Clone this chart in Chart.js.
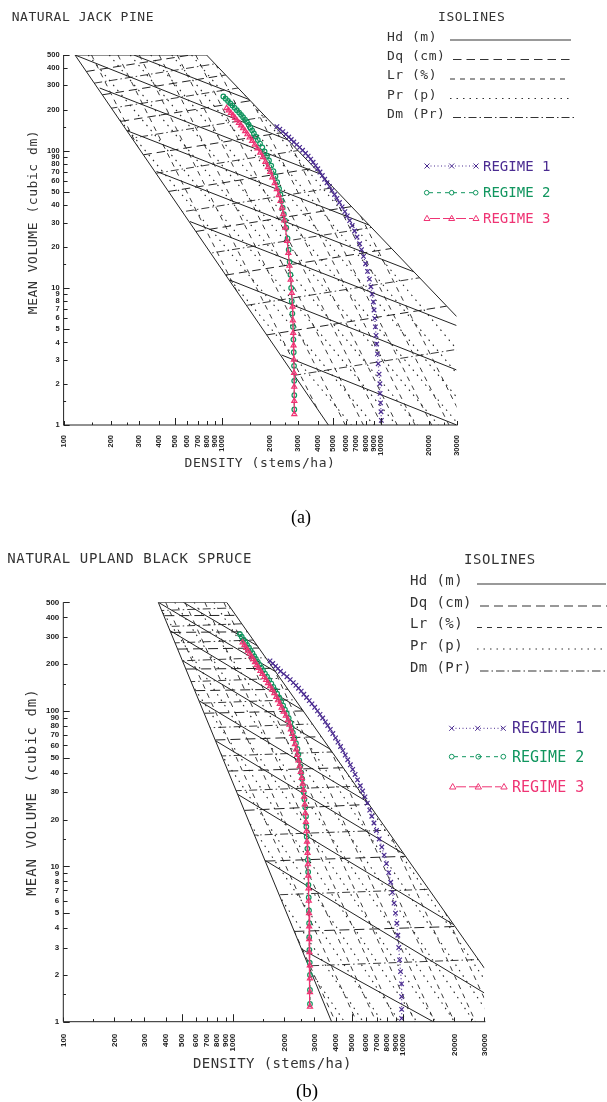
<!DOCTYPE html>
<html>
<head>
<meta charset="utf-8">
<script src="https://cdn.jsdelivr.net/npm/chart.js@4.4.1/dist/chart.umd.min.js"></script>
<style>
  html, body { margin: 0; padding: 0; background: #fff; }
  body { width: 607px; height: 1102px; position: relative; overflow: hidden; }
  canvas { position: absolute; left: 0; }
  #jackPine { top: 0; }
  #blackSpruce { top: 540px; }
  #labels { position: absolute; left: 0; top: 0; }
  #labels text { font-family: "DejaVu Sans Mono", monospace; fill: #333; }
</style>
</head>
<body>
<canvas id="jackPine" width="607" height="480"></canvas>
<canvas id="blackSpruce" width="607" height="520"></canvas>

<svg id="labels" width="607" height="1102">
  <!-- (a) natural jack pine -->
  <text x="11.7" y="20.7" font-size="13" style="letter-spacing:0.55px">NATURAL JACK PINE</text>
  <text x="438" y="21" font-size="13" style="letter-spacing:0.6px">ISOLINES</text>
  <text x="387" y="40.5" font-size="13" style="letter-spacing:0.5px">Hd (m)</text>
  <text x="387" y="59.5" font-size="13" style="letter-spacing:0.5px">Dq (cm)</text>
  <text x="387" y="79.3" font-size="13" style="letter-spacing:0.5px">Lr (%)</text>
  <text x="387" y="99" font-size="13" style="letter-spacing:0.5px">Pr (p)</text>
  <text x="387" y="118" font-size="13" style="letter-spacing:0.5px">Dm (Pr)</text>
  <g fill="none" stroke="#333" stroke-width="1.1">
    <line x1="450" y1="40" x2="571" y2="40" stroke="#777" stroke-width="1.6"/>
    <line x1="453" y1="59.5" x2="572" y2="59.5" stroke-dasharray="8.5 5"/>
    <line x1="450" y1="79" x2="569" y2="79" stroke-dasharray="5 5"/>
    <line x1="450" y1="98.5" x2="569" y2="98.5" stroke-dasharray="1.5 5"/>
    <line x1="453" y1="117.5" x2="575" y2="117.5" stroke-dasharray="8 3 1.5 3"/>
  </g>
  <g fill="none" stroke="#4b2c91" stroke-width="1">
    <line x1="427" y1="166" x2="476" y2="166" stroke-dasharray="1 2.5"/>
    <path d="M424.5 163.5L429.5 168.5M424.5 168.5L429.5 163.5M449.2 163.5L454.2 168.5M449.2 168.5L454.2 163.5M473.5 163.5L478.5 168.5M473.5 168.5L478.5 163.5"/>
  </g>
  <g fill="none" stroke="#11965f" stroke-width="1">
    <line x1="429" y1="192.7" x2="474" y2="192.7" stroke-dasharray="4 4"/>
    <circle cx="426.7" cy="192.7" r="2.3"/><circle cx="451.7" cy="192.7" r="2.3"/><circle cx="475.7" cy="192.7" r="2.3"/>
  </g>
  <g fill="none" stroke="#ef3474" stroke-width="1">
    <line x1="430" y1="218.5" x2="473" y2="218.5" stroke-dasharray="10 3"/>
    <path d="M427 215.3L430 220.5L424 220.5Z M451.7 215.3L454.7 220.5L448.7 220.5Z M476 215.3L479 220.5L473 220.5Z"/>
  </g>
  <text x="483" y="171" font-size="14" style="fill:#4b2c91">REGIME 1</text>
  <text x="483" y="196.7" font-size="14" style="fill:#11965f">REGIME 2</text>
  <text x="483" y="222.7" font-size="14" style="fill:#ef3474">REGIME 3</text>
  <text transform="translate(36.5,222) rotate(-90)" text-anchor="middle" font-size="13" style="letter-spacing:0.55px">MEAN VOLUME (cubic dm)</text>
  <text x="260" y="467" text-anchor="middle" font-size="13" style="letter-spacing:0.55px">DENSITY (stems/ha)</text>
  <text x="301" y="523" text-anchor="middle" font-size="18" style="font-family:'Liberation Serif',serif;fill:#000">(a)</text>

  <!-- (b) natural upland black spruce -->
  <text x="7.3" y="563" font-size="14" style="letter-spacing:0.64px">NATURAL UPLAND BLACK SPRUCE</text>
  <text x="464" y="564" font-size="14" style="letter-spacing:0.55px">ISOLINES</text>
  <text x="410" y="585" font-size="14" style="letter-spacing:0.4px">Hd (m)</text>
  <text x="410" y="606.5" font-size="14" style="letter-spacing:0.4px">Dq (cm)</text>
  <text x="410" y="628" font-size="14" style="letter-spacing:0.4px">Lr (%)</text>
  <text x="410" y="649.5" font-size="14" style="letter-spacing:0.4px">Pr (p)</text>
  <text x="410" y="672" font-size="14" style="letter-spacing:0.4px">Dm (Pr)</text>
  <g fill="none" stroke="#333" stroke-width="1.1">
    <line x1="477" y1="584" x2="606" y2="584" stroke="#777" stroke-width="1.6"/>
    <line x1="480" y1="606" x2="607" y2="606" stroke-dasharray="9 5"/>
    <line x1="477" y1="627.5" x2="607" y2="627.5" stroke-dasharray="5 5"/>
    <line x1="477" y1="649" x2="607" y2="649" stroke-dasharray="1.5 5"/>
    <line x1="480" y1="671" x2="607" y2="671" stroke-dasharray="8.5 3 1.5 3"/>
  </g>
  <g fill="none" stroke="#4b2c91" stroke-width="1">
    <line x1="452" y1="728.3" x2="503" y2="728.3" stroke-dasharray="1 2.5"/>
    <path d="M449.2 725.8L454.2 730.8M449.2 730.8L454.2 725.8M475.2 725.8L480.2 730.8M475.2 730.8L480.2 725.8M500.8 725.8L505.8 730.8M500.8 730.8L505.8 725.8"/>
  </g>
  <g fill="none" stroke="#11965f" stroke-width="1">
    <line x1="454" y1="756.7" x2="501" y2="756.7" stroke-dasharray="4 4"/>
    <circle cx="451.7" cy="756.7" r="2.4"/><circle cx="478.3" cy="756.7" r="2.4"/><circle cx="503.3" cy="756.7" r="2.4"/>
  </g>
  <g fill="none" stroke="#ef3474" stroke-width="1">
    <line x1="456" y1="786.8" x2="501" y2="786.8" stroke-dasharray="10 3"/>
    <path d="M452.7 783.5L455.9 789L449.5 789Z M478.3 783.5L481.5 789L475.1 789Z M504 783.5L507.2 789L500.8 789Z"/>
  </g>
  <text x="512" y="733" font-size="15" style="fill:#4b2c91">REGIME 1</text>
  <text x="512" y="762" font-size="15" style="fill:#11965f">REGIME 2</text>
  <text x="512" y="792" font-size="15" style="fill:#ef3474">REGIME 3</text>
  <text transform="translate(36.3,792) rotate(-90)" text-anchor="middle" font-size="14" style="letter-spacing:1px">MEAN VOLUME (cubic dm)</text>
  <text x="272.5" y="1068" text-anchor="middle" font-size="14" style="letter-spacing:0.4px">DENSITY (stems/ha)</text>
  <text x="307" y="1097" text-anchor="middle" font-size="19" style="font-family:'Liberation Serif',serif;fill:#000">(b)</text>
</svg>

<script>
// axis ticks (stems/ha and cubic dm)
const densityTicks = [100, 150, 200, 250, 300, 400, 500, 600, 700, 800, 900, 1000, 1500, 2000, 2500, 3000, 4000, 5000, 6000, 7000, 8000, 9000, 10000, 15000, 20000, 25000, 30000];
const densityLabels = [100, 200, 300, 400, 500, 600, 700, 800, 900, 1000, 2000, 3000, 4000, 5000, 6000, 7000, 8000, 9000, 10000, 20000, 30000];
const densityMajor = [500, 1000, 5000, 10000];
const volumeTicks = [1, 1.5, 2, 3, 4, 5, 6, 7, 8, 9, 10, 15, 20, 30, 40, 50, 60, 70, 80, 90, 100, 150, 200, 300, 400, 500];
const volumeLabels = [1, 2, 3, 4, 5, 6, 7, 8, 9, 10, 20, 30, 40, 50, 60, 70, 80, 90, 100, 200, 300, 400, 500];
const volumeMajor = [1, 5, 10, 50, 100, 500];

// ---- (a) natural jack pine ----
// outline and stand area as [density, volume]
const jpOutline = [[4660, 1], [118, 500], [796, 500], [30000, 6.18]];
const jpStand = [[118, 500], [796, 500], [30000, 6.18], [30000, 1], [4660, 1]];
// isolines as [N1, V1, N2, V2]
const jpHd = [[277, 500, 1486, 236], [118, 500, 2594, 120], [169, 287, 4170, 67.6], [244, 142, 8440, 28.7],
  [385, 70.7, 16140, 13.1], [625, 30.5, 30000, 5.31], [1117, 11.4, 30000, 2.52], [2366, 3.24, 30000, 1]];
const jpDq = [[1905, 4.54, 25900, 7.36], [1049, 12.4, 11640, 19.4], [682, 25.8, 6530, 39.2], [458, 50.5, 3828, 74.8],
  [318, 93.5, 2350, 135.5], [229, 164, 1506, 232], [175, 256, 1055, 358], [139, 379, 631, 500]];
const jpDm = [[100, 1.24, 30000, 3.56], [100, 4.57, 30000, 13.1], [100, 12.1, 30000, 34.7], [100, 26.1, 30000, 75],
  [100, 53.5, 30000, 154], [100, 103, 30000, 296], [100, 180, 30000, 516], [100, 287, 30000, 825]];
const jpPr = [[74, 500, 6500, 1], [103, 500, 9000, 1], [143, 500, 12500, 1], [194, 500, 17000, 1], [263, 500, 23000, 1],
  [354, 500, 31000, 1], [480, 500, 42000, 1], [640, 500, 56000, 1], [857, 500, 75000, 1]];
const jpLr = [[150, 500, 2235, 1], [220, 500, 3278, 1], [300, 500, 4470, 1], [400, 500, 5960, 1], [520, 500, 7750, 1],
  [680, 500, 10130, 1], [850, 500, 12660, 1], [1100, 500, 16390, 1], [1400, 500, 20860, 1], [1800, 500, 26820, 1], [2300, 500, 34270, 1]];
// regimes as [density, volume]
const jpRegime1 = [[2208, 150], [2305, 144], [2407, 138], [2512, 132], [2623, 126], [2720, 121], [2822, 116], [2944, 111],
  [3070, 106], [3204, 101], [3345, 96], [3476, 91.5], [3608, 87], [3735, 82.5], [3869, 78], [3996, 74], [4126, 70],
  [4268, 66], [4417, 62], [4569, 58.5], [4734, 55], [4910, 51.5], [5098, 48], [5273, 45], [5473, 42], [5690, 39],
  [5922, 36], [6130, 33.5], [6347, 31], [6585, 28.5], [6818, 26], [7060, 23.5], [7335, 21], [7540, 19], [7760, 17],
  [7999, 15], [8225, 13.2], [8452, 11.6], [8635, 10.2], [8793, 9], [8953, 7.9], [9042, 6.9], [9135, 6], [9222, 5.2],
  [9308, 4.5], [9391, 3.9], [9499, 3.3], [9607, 2.8], [9729, 2.35], [9843, 2.0], [9872, 1.7], [9938, 1.45], [10000, 1.25], [10050, 1.08]];
const jpRegime2 = [[1015, 249], [1050, 240], [1086, 231], [1124, 222], [1160, 214], [1197, 206], [1236, 198], [1277, 190],
  [1314, 183], [1352, 176], [1391, 169], [1432, 162], [1467, 155], [1503, 148], [1542, 141], [1582, 134], [1625, 127],
  [1674, 120], [1729, 113], [1787, 106], [1847, 99], [1913, 92], [1970, 85], [2034, 78], [2101, 71], [2163, 65],
  [2218, 59], [2280, 53], [2324, 48], [2363, 43], [2401, 38.5], [2442, 34.5], [2489, 31], [2530, 27.5], [2577, 23],
  [2621, 19], [2658, 15.5], [2688, 12.5], [2716, 10], [2741, 8], [2764, 6.5], [2787, 5.2], [2806, 4.2], [2820, 3.4],
  [2832, 2.7], [2838, 2.1], [2843, 1.65], [2843, 1.3]];
const jpRegime3 = [[1065, 205], [1098, 197], [1134, 189], [1171, 181], [1203, 174], [1236, 167], [1273, 160], [1312, 153],
  [1352, 146], [1394, 139], [1439, 132], [1487, 125], [1541, 118], [1601, 111], [1665, 104], [1734, 97], [1801, 90],
  [1868, 83], [1939, 76], [2004, 70], [2068, 64], [2139, 58], [2208, 52.5], [2268, 47.5], [2327, 43], [2380, 38.5],
  [2419, 34.5], [2457, 31], [2497, 27.5], [2561, 22], [2607, 18], [2650, 14.5], [2697, 11.5], [2742, 9.2], [2770, 7.3],
  [2786, 5.8], [2798, 4.7], [2813, 3.8], [2828, 3.0], [2834, 2.4], [2840, 1.9], [2843, 1.5], [2843, 1.2]];

// ---- (b) natural upland black spruce ----
const bsOutline = [[3785, 1], [362, 500], [914, 500], [30000, 2.21]];
const bsStand = [[362, 500], [914, 500], [30000, 2.21], [30000, 1], [3785, 1]];
const bsHd = [[508, 500, 1406, 260], [362, 500, 1803, 177], [426, 328, 2600, 100], [505, 210, 3785, 56],
  [631, 116, 6220, 25.8], [791, 64, 10230, 11.9], [1064, 29, 19900, 4.2], [1541, 10.9, 30000, 1.53], [2523, 2.93, 15000, 1]];
const bsDq = [[2287, 3.81, 20270, 4.10], [1545, 10.8, 10400, 11.6], [1165, 22.9, 6110, 25.0], [934, 41.0, 4467, 43.1],
  [785, 65.0, 3319, 68.3], [676, 96.6, 2600, 100], [597, 135, 2113, 138], [528, 186, 1730, 188],
  [473, 250, 1429, 254], [431, 320, 1221, 323], [393, 410, 1045, 412]];
const bsDm = [[100, 2.0, 30000, 2.52], [100, 5.84, 30000, 7.33], [100, 14.3, 30000, 18.0], [100, 27.9, 30000, 35.1],
  [100, 47.1, 30000, 59.1], [100, 72.0, 30000, 90.5], [100, 104, 30000, 131], [100, 144, 30000, 181],
  [100, 197, 30000, 248], [100, 258, 30000, 324], [100, 330, 30000, 415], [100, 420, 30000, 527]];
const bsPr = [[102, 500, 4500, 1], [131, 500, 5800, 1], [170, 500, 7500, 1], [215, 500, 9500, 1], [271, 500, 12000, 1],
  [351, 500, 15500, 1], [452, 500, 20000, 1], [588, 500, 26000, 1], [769, 500, 34000, 1], [995, 500, 44000, 1]];
const bsLr = [[300, 500, 3990, 1], [400, 500, 5320, 1], [520, 500, 6916, 1], [680, 500, 9044, 1], [880, 500, 11700, 1],
  [1150, 500, 15300, 1], [1500, 500, 19950, 1], [2000, 500, 26600, 1], [2600, 500, 34600, 1]];
const bsRegime1 = [[1644, 210], [1706, 202], [1771, 194], [1830, 187], [1894, 180], [1980, 173], [2069, 166], [2162, 159],
  [2254, 152], [2335, 146], [2420, 140], [2508, 134], [2600, 128], [2698, 122], [2798, 116.5], [2901, 111], [3012, 105.5],
  [3126, 100], [3237, 95], [3355, 90], [3479, 85], [3594, 80.5], [3720, 76], [3850, 71.5], [3993, 67], [4128, 63],
  [4273, 59], [4410, 55.5], [4556, 52], [4711, 48.5], [4880, 45], [5039, 42], [5206, 39], [5380, 36], [5585, 33],
  [5761, 30.5], [5950, 28], [6144, 25.5], [6346, 23], [6526, 21], [6722, 19], [6955, 17], [7220, 15], [7472, 13.3],
  [7714, 11.8], [7954, 10.4], [8207, 9.1], [8431, 7.9], [8627, 6.8], [8827, 5.8], [8998, 5.0], [9163, 4.3], [9286, 3.6],
  [9405, 3.0], [9514, 2.5], [9633, 2.1], [9767, 1.75], [9780, 1.45], [9780, 1.2], [9780, 1.05]];
const bsRegime2 = [[1094, 312], [1121, 300], [1150, 288], [1178, 277], [1206, 266], [1237, 255], [1265, 245], [1296, 235],
  [1327, 225], [1358, 216], [1393, 207], [1428, 198], [1461, 190], [1495, 182], [1536, 174], [1580, 166], [1626, 158],
  [1674, 150], [1718, 143], [1763, 136], [1811, 129], [1861, 122], [1911, 115], [1965, 108], [2013, 102], [2064, 96],
  [2119, 90], [2167, 84], [2204, 78], [2241, 72.5], [2288, 67], [2336, 62], [2385, 57], [2414, 52.5], [2446, 48],
  [2477, 44], [2511, 40], [2544, 36.5], [2572, 33], [2596, 30], [2621, 27], [2650, 24], [2678, 21], [2690, 18],
  [2704, 15.5], [2727, 13], [2743, 11], [2756, 9.2], [2767, 7.6], [2778, 6.3], [2788, 5.2], [2793, 4.3], [2797, 3.5],
  [2804, 2.9], [2816, 2.4], [2825, 2.0], [2825, 1.6], [2825, 1.3]];
const bsRegime3 = [[1135, 276], [1163, 265], [1192, 254], [1219, 244], [1247, 234], [1279, 224], [1310, 215], [1342, 206],
  [1376, 197], [1408, 189], [1444, 181], [1482, 173], [1523, 165], [1559, 158], [1601, 151], [1646, 144], [1694, 137],
  [1743, 130], [1791, 123], [1833, 117], [1877, 111], [1924, 105], [1979, 99], [2037, 93], [2098, 87], [2140, 81.5],
  [2182, 76], [2222, 71], [2264, 66], [2304, 61], [2342, 56.5], [2383, 52], [2419, 48], [2457, 44], [2494, 40.5],
  [2527, 37], [2560, 34], [2589, 31], [2609, 28], [2632, 25], [2654, 22], [2673, 19.3], [2693, 16.8], [2714, 14.4],
  [2735, 12.2], [2748, 10.3], [2760, 8.7], [2770, 7.2], [2780, 6], [2789, 5], [2794, 4.1], [2797, 3.4], [2806, 2.8],
  [2819, 2.3], [2825, 1.9], [2825, 1.55], [2825, 1.25]];

const INK = '#222';
const PURPLE = '#4b2c91';
const GREEN = '#11965f';
const PINK = '#ef3474';

// clip isolines to the stand area polygon
const standClip = {
  id: 'standClip',
  beforeDatasetDraw(chart, args, opts) {
    if (!chart.data.datasets[args.index].clipToStand) return;
    const { ctx, scales: { x, y } } = chart;
    ctx.save();
    ctx.beginPath();
    opts.polygon.forEach(([n, v], i) => {
      const px = x.getPixelForValue(n), py = y.getPixelForValue(v);
      if (i === 0) ctx.moveTo(px, py); else ctx.lineTo(px, py);
    });
    ctx.closePath();
    ctx.clip();
  },
  afterDatasetDraw(chart, args) {
    if (chart.data.datasets[args.index].clipToStand) chart.ctx.restore();
  }
};

// axis lines with ticks pointing into the plot
const inwardTicks = {
  id: 'inwardTicks',
  afterDatasetsDraw(chart, args, opts) {
    const { ctx, chartArea: a, scales: { x, y } } = chart;
    const k = opts.scale || 1;
    ctx.save();
    ctx.strokeStyle = INK;
    ctx.lineWidth = 1;
    ctx.beginPath();
    ctx.moveTo(a.left, a.top);
    ctx.lineTo(a.left, a.bottom);
    ctx.lineTo(a.right + 1, a.bottom);
    densityTicks.forEach(v => {
      const px = Math.round(x.getPixelForValue(v)) + 0.5;
      const len = (densityMajor.includes(v) ? 7 : densityLabels.includes(v) ? 4 : 2.5) * k;
      ctx.moveTo(px, a.bottom);
      ctx.lineTo(px, a.bottom - len);
    });
    volumeTicks.forEach(v => {
      const py = Math.round(y.getPixelForValue(v)) + 0.5;
      const len = (volumeMajor.includes(v) ? 6 : volumeLabels.includes(v) ? 4 : 2.5) * k;
      ctx.moveTo(a.left, py);
      ctx.lineTo(a.left + len, py);
    });
    ctx.stroke();
    ctx.restore();
  }
};

function isolines(list, dash, width) {
  return list.map(s => ({
    data: [{ x: s[0], y: s[1] }, { x: s[2], y: s[3] }],
    showLine: true,
    pointRadius: 0,
    borderColor: INK,
    borderWidth: width,
    borderDash: dash,
    clipToStand: true,
    order: 1
  }));
}

function regime(points, color, style, dash, radius, width) {
  return {
    data: points.map(p => ({ x: p[0], y: p[1] })),
    showLine: true,
    borderColor: color,
    borderWidth: 1.2,
    borderDash: dash,
    pointStyle: style,
    pointRadius: radius,
    pointBorderColor: color,
    pointBackgroundColor: 'rgba(255,255,255,0)',
    pointBorderWidth: width,
    order: 0
  };
}

function makeChart(id, c) {
  const tickFont = { family: 'Liberation Sans', size: c.fontSize, weight: 'bold' };
  new Chart(document.getElementById(id), {
    type: 'scatter',
    data: {
      datasets: [
        regime(c.r3, PINK, 'triangle', [], 2.9, 1.2),
        regime(c.r2, GREEN, 'circle', [3, 3], 2.3, 1.2),
        regime(c.r1, PURPLE, 'crossRot', [1, 2.5], 3.2, 1.2),
        {
          data: c.outline.map(p => ({ x: p[0], y: p[1] })),
          showLine: true, pointRadius: 0, borderColor: INK, borderWidth: 1, order: 1
        },
        ...isolines(c.hd, [], 1),
        ...isolines(c.dq, c.dqDash, 1),
        ...isolines(c.dm, [8, 3, 1.5, 3], 0.9),
        ...isolines(c.pr, [1.5, 5], 1.1),
        ...isolines(c.lr, [5, 5], 0.9)
      ]
    },
    options: {
      responsive: false,
      animation: false,
      devicePixelRatio: 1,
      events: [],
      layout: { padding: { left: 0, top: c.top, right: c.right, bottom: 0 } },
      plugins: {
        legend: { display: false },
        tooltip: { enabled: false },
        standClip: { polygon: c.stand },
        inwardTicks: { scale: c.k }
      },
      scales: {
        x: {
          type: 'logarithmic',
          min: 100,
          max: 30000,
          afterBuildTicks: s => { s.ticks = densityTicks.map(v => ({ value: v })); },
          afterFit: s => { s.height = c.xHeight; },
          grid: { display: false, drawTicks: false },
          border: { display: false },
          ticks: {
            autoSkip: false,
            minRotation: 90,
            maxRotation: 90,
            padding: c.xPad,
            color: INK,
            font: tickFont,
            callback: v => densityLabels.includes(v) ? String(v) : ''
          }
        },
        y: {
          type: 'logarithmic',
          min: 1,
          max: 500,
          afterBuildTicks: s => { s.ticks = volumeTicks.map(v => ({ value: v })); },
          afterFit: s => { s.width = c.yWidth; },
          grid: { display: false, drawTicks: false },
          border: { display: false },
          ticks: {
            autoSkip: false,
            padding: 4,
            color: INK,
            font: tickFont,
            callback: v => volumeLabels.includes(v) ? String(v) : ''
          }
        }
      }
    },
    plugins: [standClip, inwardTicks]
  });
}

makeChart('jackPine', {
  outline: jpOutline, stand: jpStand, hd: jpHd, dq: jpDq, dm: jpDm, pr: jpPr, lr: jpLr,
  r1: jpRegime1, r2: jpRegime2, r3: jpRegime3, dqDash: [8.5, 5],
  top: 55, right: 150.3, xHeight: 55, yWidth: 63.6, xPad: 10, fontSize: 7.5, k: 1
});

makeChart('blackSpruce', {
  outline: bsOutline, stand: bsStand, hd: bsHd, dq: bsDq, dm: bsDm, pr: bsPr, lr: bsLr,
  r1: bsRegime1, r2: bsRegime2, r3: bsRegime3, dqDash: [10, 5],
  top: 62.3, right: 122.6, xHeight: 38.3, yWidth: 63.3, xPad: 12, fontSize: 8, k: 1.07
});
</script>
</body>
</html>
